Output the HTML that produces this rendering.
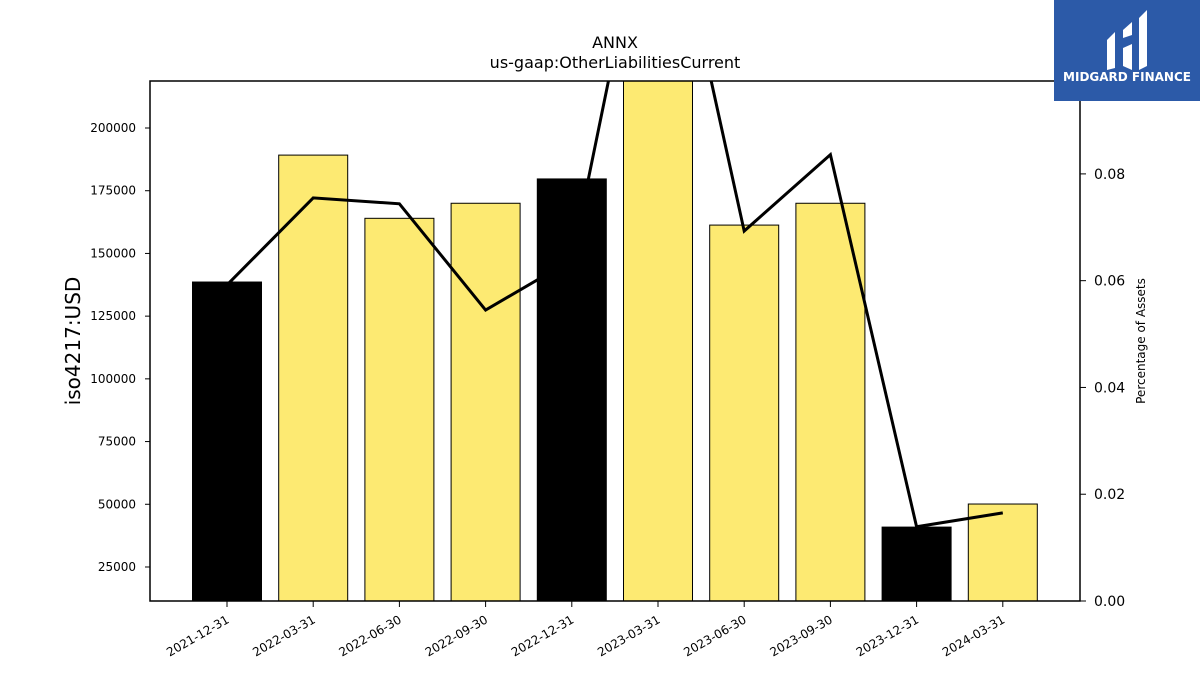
<!DOCTYPE html>
<html><head><meta charset="utf-8"><style>
body{margin:0;background:#fff;font-family:"Liberation Sans","DejaVu Sans",sans-serif}
svg text{font-family:"DejaVu Sans","Liberation Sans",sans-serif}
</style></head><body>
<svg id="chart" width="1200" height="675" xmlns="http://www.w3.org/2000/svg">
<rect width="1200" height="675" fill="#fff"/>
<text x="615" y="48" text-anchor="middle" font-size="16">ANNX</text>
<text x="615" y="68" text-anchor="middle" font-size="16">us-gaap:OtherLiabilitiesCurrent</text>
<defs><clipPath id="pc"><rect x="150" y="81" width="930" height="520"/></clipPath></defs>
<g id="bars" clip-path="url(#pc)"></g>
<g id="line" clip-path="url(#pc)"></g>
<rect x="150" y="81" width="930" height="520" fill="none" stroke="#000" stroke-width="1.5"/>
<g id="axes"></g>
<text transform="translate(80,341) rotate(-90)" text-anchor="middle" font-size="20">iso4217:USD</text>
<text transform="translate(1145,341) rotate(-90)" text-anchor="middle" font-size="12">Percentage of Assets</text>
<g>
<rect x="1054" y="0" width="146" height="101" fill="#2c5aa8"/>
<path d="M1107 40 L1115 32 L1115 68 L1107 70 Z M1123 30 L1132 22 L1132 35 L1123 38 Z M1123 48 L1132 44 L1132 70 L1123 66 Z M1139 18 L1147 10 L1147 66 L1139 70 Z" fill="#fff"/>
<text x="1127" y="81" text-anchor="middle" font-size="12" font-weight="bold" fill="#fff">MIDGARD FINANCE</text>
</g>
</svg>
<script>
const categories=["2021-12-31","2022-03-31","2022-06-30","2022-09-30","2022-12-31","2023-03-31","2023-06-30","2023-09-30","2023-12-31","2024-03-31"];
const values=[138600,189200,164000,170000,179700,240000,161300,170000,40900,50100];
const pctValues=[0.0592,0.0755,0.0744,0.0545,0.0639,0.1427,0.0693,0.0836,0.0139,0.0165];
const yTicks=[25000,50000,75000,100000,125000,150000,175000,200000];
const y2Ticks=[0,0.02,0.04,0.06,0.08];
const NS="http://www.w3.org/2000/svg";
const yMin=11440,yMax=218740,y2Max=0.0974;
const plotTop=81,plotBot=601;
const xS=i=>227+i*86.2;
const yS=v=>plotBot-(v-yMin)/(yMax-yMin)*(plotBot-plotTop);
const y2S=v=>plotBot-v/y2Max*(plotBot-plotTop);
function mk(t,a,p){const e=document.createElementNS(NS,t);for(const k in a)e.setAttribute(k,a[k]);p.appendChild(e);return e;}
const barsG=document.getElementById('bars'),lineG=document.getElementById('line'),axesG=document.getElementById('axes');
values.forEach((v,i)=>{
 const y=yS(v);
 const r=mk('rect',{x:xS(i)-34.5,y:y,width:69,height:plotBot-y+2,fill:categories[i].endsWith('12-31')?'#000':'#fdea72',stroke:'#000','stroke-width':1},barsG);
 
 
});
const pl=mk('polyline',{points:pctValues.map((v,i)=>xS(i)+','+y2S(v)).join(' '),fill:'none',stroke:'#000','stroke-width':3,'stroke-linejoin':'miter'},lineG);


yTicks.forEach(t=>{
 const y=yS(t);
 mk('line',{x1:145,x2:150,y1:y,y2:y,stroke:'#000'},axesG);
 const tx=mk('text',{x:136,y:y+4,'text-anchor':'end','font-size':12},axesG);
 tx.textContent=t;
 
 
});
y2Ticks.forEach(t=>{
 const y=y2S(t);
 mk('line',{x1:1080,x2:1086,y1:y,y2:y,stroke:'#000'},axesG);
 const tx=mk('text',{x:1094,y:y+5,'font-size':14},axesG);
 tx.textContent=t.toFixed(2);
 
 
});
categories.forEach((c,i)=>{
 const x=xS(i);
 mk('line',{x1:x,x2:x,y1:601,y2:607,stroke:'#000'},axesG);
 const tx=mk('text',{transform:'translate('+(x+3)+',622) rotate(-30)','text-anchor':'end','font-size':12},axesG);
 tx.textContent=c;
 
 
});
</script>
</body></html>
